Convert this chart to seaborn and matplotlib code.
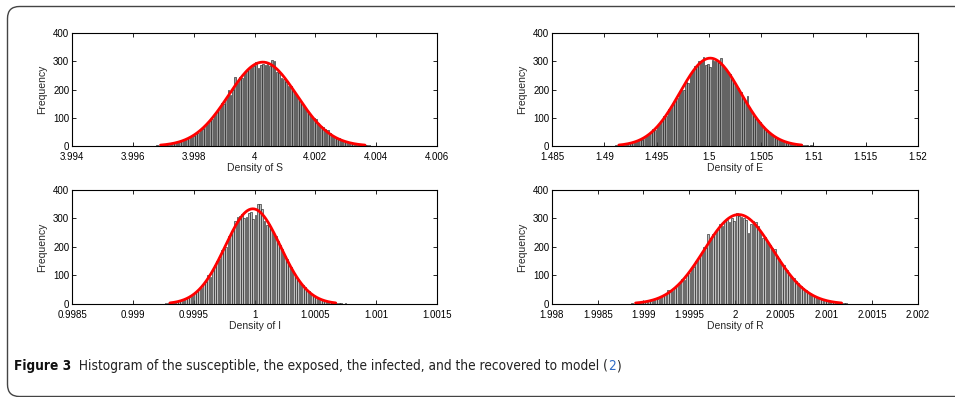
import numpy as np
import matplotlib
matplotlib.use("Agg")
import matplotlib.pyplot as plt
import seaborn as sns
from matplotlib.patches import FancyBboxPatch
from matplotlib.ticker import FormatStrFormatter


# ─────────────────────────────────────────────
# Data: bin counts (100 bins each)
# ─────────────────────────────────────────────

s_counts = [0, 0, 1, 0, 1, 1, 2, 1, 2, 3, 4, 5,
            8, 10, 11, 15, 17, 18, 24, 25, 33, 32,
            36, 45, 47, 58, 62, 76, 78, 92, 96, 110,
            125, 130, 152, 150, 168, 198, 180, 200, 243, 222,
            246, 240, 258, 266, 275, 278, 284, 296, 277, 288,
            292, 286, 290, 283, 306, 300, 262, 258, 240, 236,
            228, 214, 213, 198, 186, 172, 160, 150, 142, 128,
            116, 104, 98, 95, 82, 72, 68, 60, 58, 45,
            40, 33, 28, 27, 20, 18, 17, 12, 11, 9,
            7, 5, 6, 3, 4, 2, 2, 1]
s_range = (3.99629, 4.00389)

e_counts = [0, 1, 0, 1, 1, 2, 1, 3, 3, 5,
            7, 10, 10, 15, 14, 20, 24, 22, 30, 38,
            40, 48, 62, 58, 75, 80, 92, 108, 106, 130,
            132, 152, 160, 170, 195, 205, 200, 226, 222, 250,
            270, 282, 287, 300, 296, 316, 286, 292, 278, 304,
            300, 306, 294, 310, 284, 272, 266, 255, 240, 228,
            210, 205, 190, 172, 158, 176, 138, 120, 108, 96,
            92, 84, 70, 60, 58, 48, 44, 36, 30, 26,
            24, 18, 15, 14, 10, 8, 7, 6, 4, 4,
            3, 2, 2, 1, 2, 1, 0, 1, 0, 1]
e_range = (1.48994, 1.51094)

i_counts = [0, 1, 0, 1, 1, 1, 2, 2, 3, 4,
            6, 7, 10, 9, 15, 16, 22, 25, 28, 38,
            44, 52, 56, 74, 78, 100, 96, 122, 136, 150,
            158, 190, 192, 200, 238, 246, 262, 290, 304, 310,
            315, 300, 305, 318, 322, 298, 312, 352, 350, 332,
            290, 276, 282, 262, 252, 240, 222, 206, 192, 170,
            158, 140, 128, 110, 96, 86, 74, 65, 58, 48,
            44, 36, 28, 25, 20, 15, 14, 10, 9, 6,
            5, 4, 4, 2, 2, 1, 2, 1, 0, 1,
            0, 1, 0, 0, 1, 0, 0, 1, 0, 0]
i_range = (0.999148, 1.000998)

r_counts = [0, 0, 1, 0, 1, 1, 0, 2, 1, 2,
            5, 4, 8, 9, 11, 10, 14, 18, 17, 24,
            28, 32, 50, 44, 47, 56, 64, 72, 86, 85,
            102, 110, 124, 130, 150, 165, 175, 200, 198, 245,
            230, 246, 250, 264, 280, 272, 290, 296, 286, 302,
            292, 318, 308, 306, 300, 296, 250, 282, 292, 286,
            274, 254, 232, 236, 220, 208, 198, 192, 168, 158,
            140, 136, 120, 104, 98, 90, 82, 74, 64, 56,
            48, 42, 38, 30, 28, 22, 20, 16, 13, 12,
            9, 7, 6, 5, 4, 3, 4, 2, 1, 1]
r_range = (1.99868, 2.00128)

x_labels = ["Density of S", "Density of E", "Density of I", "Density of R"]
x_limits = [(3.994, 4.006), (1.485, 1.52), (0.9985, 1.0015), (1.998, 2.002)]
x_nticks = [7, 8, 7, 9]
y_ticks = [0, 100, 200, 300, 400]

caption_bold = "Figure 3"
caption_text = "  Histogram of the susceptible, the exposed, the infected, and the recovered to model ("
caption_ref = "2"

# ─────────────────────────────────────────────
# Style
# ─────────────────────────────────────────────
sns.set_style("ticks", {"xtick.direction": "in", "ytick.direction": "in"})
plt.rcParams["font.family"] = ["Liberation Sans", "DejaVu Sans"]
plt.rcParams["axes.linewidth"] = 0.8

fig = plt.figure(figsize=(9.55, 3.97), dpi=100)
fig.patch.set_facecolor("white")

# background overlay in pixel coordinates: frame + caption
bg = fig.add_axes([0, 0, 1, 1], zorder=-1)
bg.axis("off")
bg.set_xlim(0, 955)
bg.set_ylim(397, 0)
bg.add_patch(FancyBboxPatch((7.5, 6.5), 1000, 390, boxstyle="round,pad=0,rounding_size=12",
                            fill=False, edgecolor="#444444", linewidth=1.0))

positions = [
    [0.0754, 0.6322, 0.3822, 0.2846],
    [0.5780, 0.6322, 0.3832, 0.2846],
    [0.0754, 0.2343, 0.3822, 0.2872],
    [0.5780, 0.2343, 0.3832, 0.2872],
]
fills = ["#9a9a9a", "#9a9a9a", "#c0c0c0", "#c0c0c0"]

panels = [(s_counts, s_range), (e_counts, e_range), (i_counts, i_range), (r_counts, r_range)]

for k, (counts, brange) in enumerate(panels):
    ax = fig.add_axes(positions[k])
    counts = np.asarray(counts, dtype=float)
    nb = len(counts)
    width = (brange[1] - brange[0]) / nb
    centers = brange[0] + (np.arange(nb) + 0.5) * width

    sns.histplot(x=centers, weights=counts, bins=nb, binrange=brange, ax=ax,
                 color=fills[k], alpha=1, edgecolor="#111111", linewidth=0.4, shrink=0.72)

    # normal fit of the histogram (like MATLAB histfit), drawn over +-3 sd
    n_tot = counts.sum()
    mu = (counts * centers).sum() / n_tot
    sd = np.sqrt((counts * (centers - mu) ** 2).sum() / n_tot)
    xs = np.linspace(mu - 3 * sd, mu + 3 * sd, 200)
    ys = n_tot * width * np.exp(-0.5 * ((xs - mu) / sd) ** 2) / (sd * np.sqrt(2 * np.pi))
    sns.lineplot(x=xs, y=ys, ax=ax, color="red", linewidth=2.0)

    ax.set_xlim(*x_limits[k])
    ax.set_ylim(0, 400)
    ax.set_xticks(np.linspace(x_limits[k][0], x_limits[k][1], x_nticks[k]))
    ax.set_yticks(y_ticks)
    ax.xaxis.set_major_formatter(FormatStrFormatter("%g"))
    ax.tick_params(top=True, right=True, length=3, width=0.6, labelsize=7, colors="black")
    ax.tick_params(axis="x", pad=4)
    ax.tick_params(axis="y", pad=2)
    ax.set_xlabel(x_labels[k], fontsize=7.5, labelpad=1)
    ax.set_ylabel("Frequency", fontsize=7.5, labelpad=4)
    for sp in ax.spines.values():
        sp.set_visible(True)
        sp.set_color("black")

# caption with blue reference number
cap_kw = dict(fontsize=9.8, family="DejaVu Sans", fontstretch="condensed")
t1 = bg.text(14, 370, caption_bold, fontweight="bold", va="baseline", ha="left",
             color="#111111", **cap_kw)
t2 = bg.annotate(caption_text, xy=(1, 0), xycoords=t1, va="bottom", ha="left",
                 color="#222222", **cap_kw)
t3 = bg.annotate(caption_ref, xy=(1, 0), xycoords=t2, va="bottom", ha="left",
                 color="#2f6bc6", **cap_kw)
t4 = bg.annotate(")", xy=(1, 0), xycoords=t3, va="bottom", ha="left",
                 color="#222222", **cap_kw)

fig.savefig("out.png", dpi=100)
